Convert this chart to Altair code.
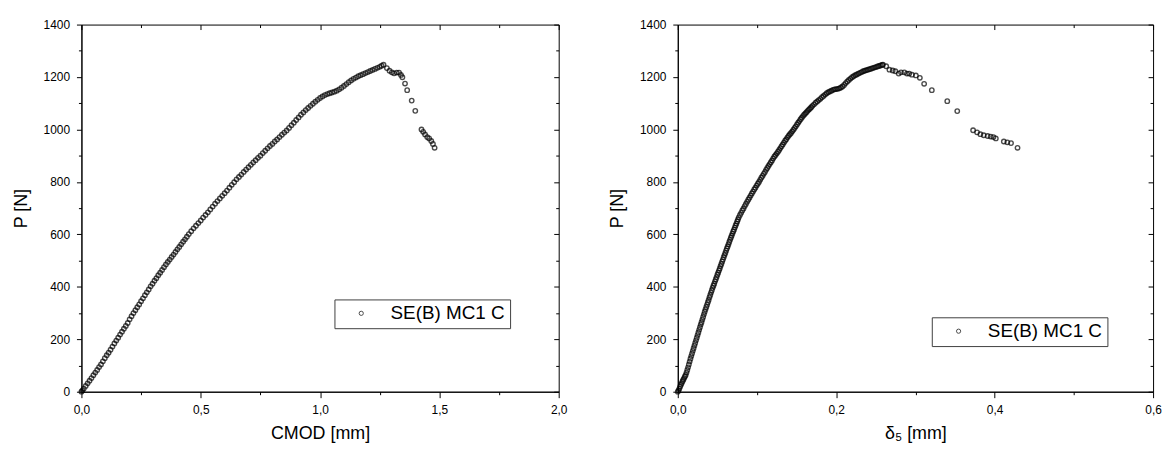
import altair as alt
import pandas as pd

series_name = "SE(B) MC1 C"

# ---- Left panel: P vs CMOD ----
cmod_mm = [
    0.000, 0.004, 0.010, 0.018, 0.026, 0.034, 0.042, 0.050, 0.058, 0.066, 0.074, 0.082, 0.090, 0.098,
    0.106, 0.114, 0.122, 0.130, 0.138, 0.146, 0.154, 0.162, 0.170, 0.178, 0.186, 0.194, 0.202, 0.210,
    0.218, 0.226, 0.234, 0.242, 0.250, 0.258, 0.266, 0.274, 0.282, 0.290, 0.298, 0.306, 0.314, 0.322,
    0.330, 0.338, 0.346, 0.354, 0.362, 0.370, 0.378, 0.386, 0.394, 0.402, 0.410, 0.418, 0.426, 0.434,
    0.442, 0.450, 0.460, 0.470, 0.480, 0.490, 0.500, 0.510, 0.520, 0.530, 0.540, 0.550, 0.560, 0.570,
    0.580, 0.590, 0.600, 0.610, 0.620, 0.630, 0.640, 0.650, 0.660, 0.670, 0.680, 0.690, 0.700, 0.710,
    0.720, 0.730, 0.740, 0.750, 0.760, 0.770, 0.780, 0.790, 0.800, 0.810, 0.820, 0.830, 0.840, 0.850,
    0.860, 0.870, 0.880, 0.890, 0.900, 0.910, 0.920, 0.930, 0.940, 0.950, 0.960, 0.970, 0.980, 0.990,
    1.000, 1.010, 1.020, 1.030, 1.040, 1.050, 1.060, 1.070, 1.080, 1.090, 1.100, 1.110, 1.120, 1.130,
    1.140, 1.150, 1.160, 1.170, 1.180, 1.190, 1.200, 1.210, 1.220, 1.230, 1.240, 1.250, 1.258, 1.266,
    1.280, 1.291, 1.301, 1.310, 1.321, 1.331, 1.339, 1.345, 1.356, 1.365, 1.384, 1.399, 1.425, 1.432,
    1.440, 1.449, 1.457, 1.466, 1.473, 1.480,
]
cmod_p = [
    0, 5, 12, 22, 32, 42, 52, 63, 73, 83, 94, 104, 116, 128,
    139, 149, 160, 172, 184, 195, 206, 218, 229, 240, 251, 262, 276, 288,
    300, 311, 322, 333, 345, 356, 368, 379, 390, 402, 412, 423, 433, 444,
    454, 464, 475, 485, 495, 504, 514, 523, 533, 543, 552, 562, 572, 581,
    591, 601, 612, 623, 633, 643, 653, 664, 674, 684, 695, 706, 717, 727,
    737, 747, 757, 767, 778, 789, 799, 810, 819, 828, 838, 847, 856, 865,
    874, 883, 892, 900, 910, 919, 928, 937, 945, 954, 962, 971, 980, 988,
    996, 1006, 1016, 1026, 1036, 1046, 1056, 1065, 1074, 1082, 1090, 1098, 1106, 1113,
    1120, 1126, 1131, 1135, 1138, 1141, 1144, 1148, 1153, 1159, 1166, 1173, 1180, 1187,
    1193, 1198, 1203, 1207, 1211, 1215, 1219, 1223, 1227, 1231, 1235, 1239, 1243, 1247,
    1234, 1224, 1218, 1214, 1217, 1217, 1208, 1199, 1175, 1150, 1110, 1071, 1000, 991,
    981, 971, 966, 956, 945, 930,
]

# ---- Right panel: P vs delta5 ----
delta5_mm = [
    0.0000, 0.0010, 0.0020, 0.0030, 0.0040, 0.0050, 0.0060, 0.0070, 0.0080, 0.0090, 0.0100, 0.0110,
    0.0120, 0.0130, 0.0140, 0.0150, 0.0160, 0.0170, 0.0180, 0.0190, 0.0200, 0.0210, 0.0220, 0.0230,
    0.0240, 0.0250, 0.0260, 0.0270, 0.0280, 0.0290, 0.0300, 0.0310, 0.0320, 0.0330, 0.0340, 0.0350,
    0.0360, 0.0370, 0.0380, 0.0390, 0.0400, 0.0410, 0.0420, 0.0430, 0.0440, 0.0450, 0.0460, 0.0470,
    0.0480, 0.0490, 0.0500, 0.0510, 0.0520, 0.0530, 0.0540, 0.0550, 0.0560, 0.0570, 0.0580, 0.0590,
    0.0600, 0.0610, 0.0620, 0.0630, 0.0640, 0.0650, 0.0660, 0.0670, 0.0680, 0.0690, 0.0700, 0.0710,
    0.0720, 0.0730, 0.0740, 0.0750, 0.0760, 0.0770, 0.0785, 0.0800, 0.0815, 0.0830, 0.0845, 0.0860,
    0.0875, 0.0890, 0.0905, 0.0920, 0.0935, 0.0950, 0.0965, 0.0980, 0.0995, 0.1010, 0.1025, 0.1040,
    0.1055, 0.1070, 0.1085, 0.1100, 0.1115, 0.1130, 0.1145, 0.1160, 0.1175, 0.1190, 0.1205, 0.1220,
    0.1235, 0.1250, 0.1265, 0.1280, 0.1295, 0.1310, 0.1325, 0.1340, 0.1355, 0.1370, 0.1385, 0.1400,
    0.1415, 0.1430, 0.1445, 0.1460, 0.1475, 0.1490, 0.1505, 0.1520, 0.1535, 0.1550, 0.1565, 0.1580,
    0.1595, 0.1610, 0.1625, 0.1640, 0.1655, 0.1670, 0.1685, 0.1700, 0.1720, 0.1740, 0.1760, 0.1780,
    0.1800, 0.1820, 0.1840, 0.1860, 0.1880, 0.1900, 0.1920, 0.1940, 0.1960, 0.1980, 0.2000, 0.2020,
    0.2040, 0.2060, 0.2080, 0.2100, 0.2120, 0.2140, 0.2160, 0.2180, 0.2200, 0.2220, 0.2240, 0.2260,
    0.2280, 0.2300, 0.2320, 0.2340, 0.2360, 0.2380, 0.2400, 0.2420, 0.2440, 0.2460, 0.2480, 0.2500,
    0.2520, 0.2540, 0.2560, 0.2580, 0.2590,
    0.2631, 0.2672, 0.2713, 0.2747, 0.2789, 0.2818, 0.2860, 0.2893, 0.2922, 0.2956, 0.3006, 0.3056,
    0.3110, 0.3207, 0.3402, 0.3528, 0.3728, 0.3778, 0.3820, 0.3862, 0.3912, 0.3950, 0.3985, 0.4015,
    0.4116, 0.4160, 0.4207, 0.4289,
]
delta5_p = [
    0, 5, 12, 20, 27, 33, 40, 46, 52, 58, 64, 73,
    83, 93, 104, 115, 126, 136, 146, 156, 166, 176, 186, 196,
    206, 216, 226, 236, 246, 256, 265, 275, 285, 295, 305, 314,
    323, 332, 341, 350, 360, 369, 378, 387, 396, 404, 412, 421,
    429, 437, 446, 454, 462, 470, 479, 487, 496, 504, 513, 521,
    529, 538, 546, 554, 562, 571, 579, 587, 595, 603, 611, 618,
    626, 634, 641, 649, 657, 665, 674, 682, 691, 699, 708, 716,
    724, 732, 740, 748, 756, 763, 771, 778, 786, 793, 800, 808,
    816, 823, 831, 838, 846, 853, 861, 868, 875, 882, 890, 897,
    903, 909, 915, 922, 929, 936, 943, 950, 957, 963, 970, 976,
    982, 987, 993, 999, 1006, 1012, 1019, 1026, 1032, 1039, 1045, 1051,
    1056, 1061, 1066, 1071, 1076, 1080, 1085, 1090, 1096, 1102, 1107, 1112,
    1117, 1123, 1128, 1133, 1138, 1142, 1145, 1148, 1151, 1153, 1154, 1155,
    1157, 1160, 1164, 1170, 1177, 1183, 1189, 1194, 1199, 1203, 1207, 1210,
    1213, 1216, 1219, 1222, 1224, 1226, 1228, 1230, 1232, 1234, 1236, 1238,
    1240, 1242, 1244, 1246, 1247,
    1241, 1228, 1225, 1222, 1213, 1218, 1218, 1213, 1213, 1209, 1206, 1197,
    1174, 1150, 1108, 1070, 997, 989, 982, 978, 975, 973, 971, 966,
    954, 951, 948, 930,
]

# ---- Axis tick values ----
cmod_ticks = [0.0, 0.25, 0.5, 0.75, 1.0, 1.25, 1.5, 1.75, 2.0]
delta5_ticks = [0.0, 0.1, 0.2, 0.3, 0.4, 0.5, 0.6]
p_ticks = [0, 100, 200, 300, 400, 500, 600, 700, 800, 900, 1000, 1100, 1200, 1300, 1400]

FONT = "Liberation Sans"
NB = "\u00a0"

left_df = pd.DataFrame({"x": cmod_mm, "P": cmod_p, "series": series_name})
right_df = pd.DataFrame({"x": delta5_mm, "P": delta5_p, "series": series_name})


def panel(df, xtitle, xdomain, xticks, major_test, W, H, lx, ly, trail):
    xs = alt.Scale(domain=xdomain, nice=False, zero=False)
    ys = alt.Scale(domain=[0, 1400], nice=False)
    x_out = {"condition": {"test": major_test, "value": 6}, "value": 3}
    y_out = {"condition": {"test": "datum.value % 200 === 0", "value": 5}, "value": 3}
    x_in = {"condition": {"test": major_test, "value": 5}, "value": 3}
    y_in = {"condition": {"test": "datum.value % 200 === 0", "value": 5}, "value": 3}
    xlabel = f"({major_test}) ? replace(format(datum.value, '.1f'), '.', ',') : ''"
    ylabel = "(datum.value % 200 === 0) ? format(datum.value, 'd') : ''"

    pts = alt.Chart(df).mark_point(filled=False, size=20, strokeWidth=1.4).encode(
        x=alt.X("x:Q", scale=xs, axis=alt.Axis(
            orient="bottom", values=xticks, tickSize=x_out, labelExpr=xlabel,
            labelFlush=False, title=xtitle, titlePadding=9, labelPadding=7)),
        y=alt.Y("P:Q", scale=ys, axis=alt.Axis(
            orient="left", values=p_ticks, tickSize=y_out, labelExpr=ylabel,
            labelFlush=False, title="P [N]", titlePadding=13, labelPadding=7)),
        color=alt.Color("series:N", scale=alt.Scale(range=["black"]), legend=alt.Legend(
            orient="none", legendX=lx, legendY=ly, title=None,
            strokeColor="#404040", fillColor="white", padding=4.5,
            symbolType="circle", symbolSize=18, symbolStrokeWidth=1,
            symbolStrokeColor="black", symbolOffset=13, labelOffset=20,
            labelFont=FONT, labelFontSize=19, labelColor="black",
            labelExpr="datum.label + '" + NB * trail + "'")),
    )
    mirror = alt.Chart(df).mark_point(opacity=0).encode(
        x=alt.X("x:Q", scale=xs, axis=alt.Axis(
            orient="bottom", offset=-H, values=xticks, tickSize=x_in,
            labels=False, domain=False, title=None)),
        y=alt.Y("P:Q", scale=ys, axis=alt.Axis(
            orient="left", offset=-W, values=p_ticks, tickSize=y_in,
            labels=False, domain=False, title=None)),
    )
    return alt.layer(pts, mirror).resolve_axis(x="independent", y="independent").properties(
        width=W, height=H)


left = panel(left_df, "CMOD [mm]", [0, 2], cmod_ticks, "round(datum.value*4) % 2 === 0",
             481, 370, 255, 277, 2)
right = panel(right_df, "δ₅ [mm]", [0, 0.6], delta5_ticks, "round(datum.value*10) % 2 === 0",
              479, 370, 256, 295, 2)

chart = alt.hconcat(left, right, spacing=40).resolve_scale(color="independent").resolve_legend(
    color="independent").properties(
    padding={"left": 3, "top": 8, "right": 0, "bottom": 0}
).configure(font=FONT).configure_view(stroke="black", strokeWidth=1).configure_axis(
    grid=False, domainColor="black", domainWidth=1, tickColor="black", tickWidth=1,
    labelColor="black", titleColor="black", labelFont=FONT, labelFontSize=12,
    titleFont=FONT, titleFontSize=18, titleFontWeight="normal")

chart.save("out.html", embed_options={"renderer": "svg", "actions": False})
